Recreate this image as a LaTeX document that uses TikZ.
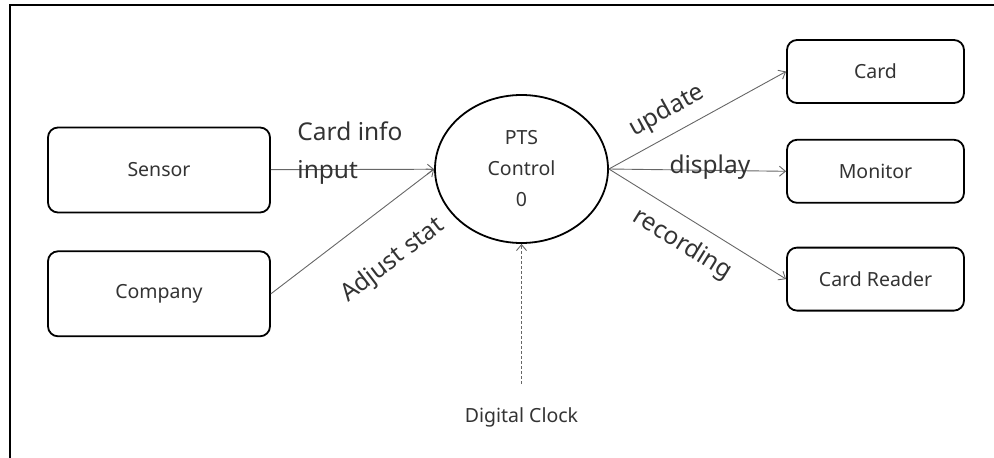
\documentclass[tikz,border=0pt]{standalone}
\usepackage{fontspec}
\setmainfont{Noto Sans}
\usepackage{tikz}
\usetikzlibrary{shapes.geometric, arrows.meta, positioning}

\begin{document}
\begin{tikzpicture}[
    x=1pt, y=-1pt,
    node distance=37pt,
    entity/.style={rectangle, rounded corners=10pt, draw=black, line width=1.8pt, minimum width=222pt, minimum height=85pt, font=\fontsize{19.5}{22}\selectfont, text=black!80},
    outbox/.style={entity, minimum width=177pt, minimum height=63pt},
    proc/.style={ellipse, draw=black, line width=1.8pt, minimum width=173pt, minimum height=148pt, align=center, font=\fontsize{19.5}{31}\selectfont, text=black!80},
    flow/.style={-{Straight Barb[length=6pt, width=10pt]}, draw=black!60, line width=0.9pt},
    clockflow/.style={flow, dash pattern=on 3pt off 2pt},
    flowlbl/.style={font=\fontsize{24.5}{38}\selectfont, text=black!80, inner sep=0pt}
]

% frame
\useasboundingbox (0,0) rectangle (994,458);
\draw[line width=1.8pt] (10,458) -- (10,5) -- (994,5);

% sources
\node[entity] (sensor) at (159,170) {Sensor};
\node[entity, below=of sensor] (company) {Company};

% process
\node[proc] (ctrl) at (521.5,169) {PTS\\Control\\0};

% sinks
\node[outbox] (card) at (875.5,71.5) {Card};
\node[outbox, below=35pt of card] (monitor) {Monitor};
\node[outbox, below=43pt of monitor] (reader) {Card Reader};

% clock
\coordinate[below=140pt of ctrl.south] (clk);
\node[below=20pt of clk, font=\fontsize{19.5}{22}\selectfont, text=black!80] (clock) {Digital Clock};

% flows in
\draw[flow] (sensor) -- node[flowlbl, pos=0.16, anchor=west, align=left, yshift=17pt] {Card info\\input} (ctrl);
\draw[flow] (company.east) -- node[flowlbl, pos=0.57, sloped, below=35pt] {Adjust stat} (ctrl.west);
\draw[clockflow] (clk) -- (ctrl.south);

% flows out
\draw[flow] (ctrl.east) -- node[flowlbl, pos=0.39, sloped, above=10pt] {update} (card.west);
\draw[flow] (ctrl.east) -- node[flowlbl, pos=0.57, anchor=base, yshift=-3pt] {display} (monitor.west);
\draw[flow] (ctrl.east) -- node[flowlbl, pos=0.49, sloped, below=13pt] {recording} (reader.west);

\end{tikzpicture}
\end{document}
